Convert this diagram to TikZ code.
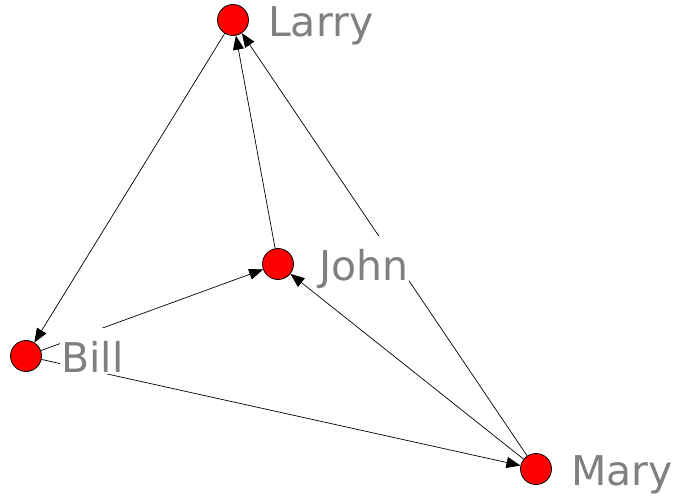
\documentclass[tikz,border=0pt]{standalone}
\usepackage{fontspec}
\setmainfont{DejaVu Sans}
\usepackage{xcolor}
\usepackage{tikz}
\usetikzlibrary{arrows.meta, positioning}

\begin{document}
\begin{tikzpicture}[
x=1pt, y=-1pt,
actor/.style={draw, circle, fill=red, minimum size=31pt, inner sep=0pt, line width=0.8pt},
arr/.style={-{Triangle[length=14pt, width=11pt]}, line width=0.7pt},
actorlabel/.style={fill=white, text=gray, inner sep=1pt, text height=44pt, text depth=0pt, font=\fontsize{41pt}{41pt}\selectfont}
]
\useasboundingbox (0,0) rectangle (681,502);
\node[actor] (larry) at (233,20) {};
\node[actor] (john) at (278,264) {};
\node[actor] (bill) at (26,356) {};
\node[actor] (mary) at (536,469) {};
\draw[arr] (larry) -- (bill);
\draw[arr] (john) -- (larry);
\draw[arr] (mary) -- (larry);
\draw[arr] (bill) -- (john);
\draw[arr] (mary) -- (john);
\draw[arr] (bill) -- (mary);
\node[actorlabel, right=18pt of larry, anchor=base west, yshift=-17pt] (larrylabel) {Larry};
\node[actorlabel, right=18pt of john, anchor=base west, yshift=-17pt, xshift=6pt] (johnlabel) {John};
\node[actorlabel, right=18pt of bill, anchor=base west, yshift=-17pt] (billlabel) {Bill};
\node[actorlabel, right=18pt of mary, anchor=base west, yshift=-17pt] (marylabel) {Mary};
\end{tikzpicture}
\end{document}
